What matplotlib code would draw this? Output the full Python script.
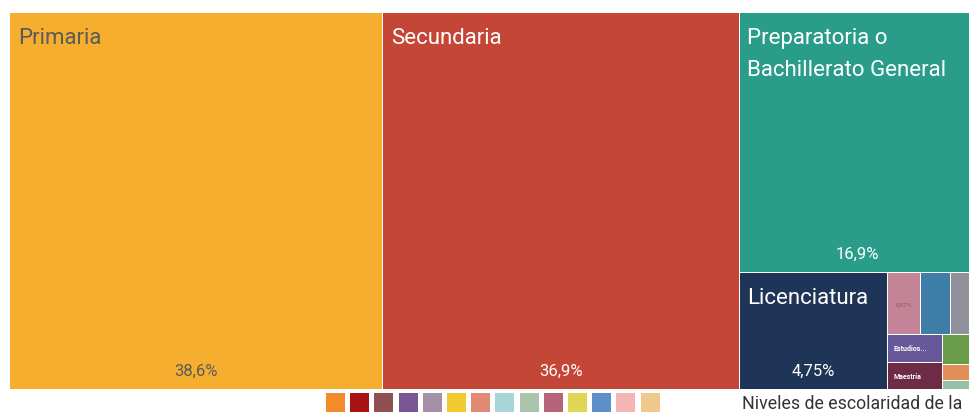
import matplotlib
matplotlib.use("Agg")
import matplotlib.pyplot as plt
from matplotlib.patches import Rectangle

# ── data ─────────────────────────────────────────────────────────────────────
levels = ["Primaria", "Secundaria", "Preparatoria o Bachillerato General",
          "Licenciatura", "Bachillerato Tecnológico", "Normal de Licenciatura",
          "Ninguno", "Estudios Técnicos o Comerciales con Secundaria Terminada",
          "Maestría", "Estudios Técnicos o Comerciales con Primaria Terminada",
          "Especialidad", "Doctorado", "Normal con Primaria o Secundaria Terminada",
          "Estudios Técnicos o Comerciales con Preparatoria Terminada"]
shares = [38.6, 36.9, 16.9, 4.75, 0.57, 0.51, 0.44, 0.42, 0.41, 0.28,
          0.12, 0.06, 0.025, 0.015]
tile_labels = ["Primaria", "Secundaria", "Preparatoria o\nBachillerato General",
               "Licenciatura", "", "", "", "Estudios...", "Maestría",
               "", "", "", "", ""]
show_share = [True, True, True, True, True, False, False, False, False,
              False, False, False, False, False]
legend_colors = ["#f28c2a", "#a81414", "#8e5050", "#795595", "#a68fa9",
                 "#f2c92e", "#e08a73", "#a8d6d8", "#aac5a9", "#b5647a",
                 "#e0d654", "#5f8fc8", "#f4b5b5", "#f0c88b"]
caption = "Niveles de escolaridad de la"

# ── style ────────────────────────────────────────────────────────────────────
tile_colors = ["#f5ae2e", "#c44637", "#2a9d8a", "#1f3557", "#c48497",
               "#3e7ea6", "#8f909a", "#675899", "#6e2b45", "#6a9b4a",
               "#e08f58", "#96c1a7", "#e0c03a", "#a0522d"]
dark_text = {0, 4}
plt.rcParams["font.family"] = "Roboto"

W, H = 969, 412
X0, Y0, X1, Y1 = 10, 12, 976, 389


def squarify(values, x0, y0, x1, y1, ratio=1.618034):
    """d3.treemapSquarify, y axis pointing down."""
    n = len(values)
    rects = [None] * n
    value = sum(values)
    i0 = i1 = 0
    while i0 < n:
        dx, dy = x1 - x0, y1 - y0
        sumv = values[i1]
        i1 += 1
        minv = maxv = sumv
        alpha = max(dy / dx, dx / dy) / (value * ratio)
        beta = sumv * sumv * alpha
        minr = max(maxv / beta, beta / minv)
        while i1 < n:
            v = values[i1]
            sumv += v
            minv, maxv = min(minv, v), max(maxv, v)
            beta = sumv * sumv * alpha
            newr = max(maxv / beta, beta / minv)
            if newr > minr:
                sumv -= v
                break
            minr = newr
            i1 += 1
        if dx < dy:
            h = dy * sumv / value
            xs = x0
            for i in range(i0, i1):
                w = dx * values[i] / sumv
                rects[i] = (xs, y0, xs + w, y0 + h)
                xs += w
            y0 += h
        else:
            w = dx * sumv / value
            ys = y0
            for i in range(i0, i1):
                h = dy * values[i] / sumv
                rects[i] = (x0, ys, x0 + w, ys + h)
                ys += h
            x0 += w
        value -= sumv
        i0 = i1
    return rects


fig = plt.figure(figsize=(W / 100, H / 100), dpi=100)
fig.patch.set_facecolor("white")
ax = fig.add_axes([0, 0, 1, 1])
ax.set_xlim(0, W)
ax.set_ylim(H, 0)
ax.axis("off")

rects = squarify(shares, X0, Y0, X1, Y1)
for i, (a, b, c, d) in enumerate(rects):
    ax.add_patch(Rectangle((a + 0.5, b + 0.5), c - a - 1, d - b - 1,
                           facecolor=tile_colors[i], edgecolor="none"))
    tc = "#5b5b5b" if i in dark_text else "white"
    big = (c - a) > 100
    if tile_labels[i]:
        if big:
            for k, line in enumerate(tile_labels[i].split("\n")):
                ax.text(a + 8, b + 31.5 + k * 32, line, fontsize=16,
                        color=tc, ha="left", va="baseline")
        else:
            ax.text(a + 6, (b + d) / 2 + 1, tile_labels[i], fontsize=5,
                    color=tc, ha="left", va="center", fontweight="bold")
    if show_share[i]:
        txt = f"{shares[i]:.3g}".replace(".", ",") + "%"
        if big:
            ax.text((a + c) / 2, d - 13, txt, fontsize=12, color=tc,
                    ha="center", va="baseline")
        else:
            ax.text((a + c) / 2, (b + d) / 2 + 2, txt, fontsize=4.5,
                    color="#7a5a66", ha="center", va="center")

# legend swatches
pitch, size, lx = 24.2, 19, 326
for k, col in enumerate(legend_colors):
    ax.add_patch(Rectangle((lx + k * pitch, 393), size, size,
                           facecolor=col, edgecolor="none"))

ax.text(742, 409, caption, fontsize=12.8, color="#333333",
        ha="left", va="baseline")

fig.savefig("out.png", dpi=100, facecolor="white")
